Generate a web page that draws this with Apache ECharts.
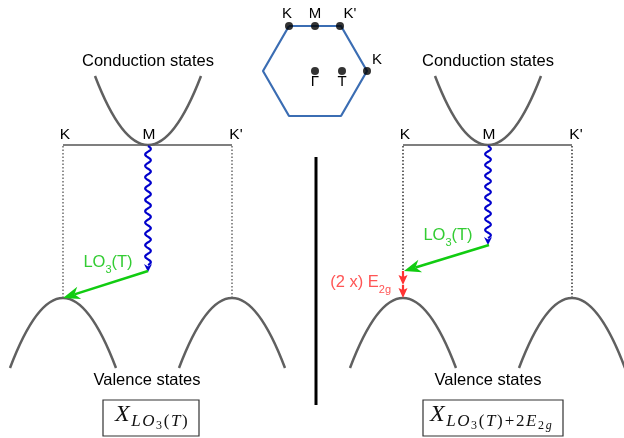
<!DOCTYPE html>
<html><head><meta charset="utf-8">
<script src="https://cdn.jsdelivr.net/npm/echarts@6/dist/echarts.min.js"></script>
<style>html,body{margin:0;padding:0;background:#fff}#c{width:624px;height:438px}</style>
</head><body><div id="c"></div>
<script>
// Diagram values, in the diagram's own units (0..624 across, 0..438 down)
const bandCurves = [ // [xLeftEnd, yEnds, xVertex, yVertex, xRightEnd]
  [95, 76, 148, 145, 201],
  [435, 76, 488, 145, 541],
  [10, 368, 63, 298, 116],
  [179, 368, 232, 298, 285],
  [350, 368, 403, 298, 456],
  [519, 368, 572, 298, 625]
];
const pathLines = [[63,145,232,145],[403,145,572,145]];
const dottedGray = [[63,146,63,298],[232,146,232,298]];
const dottedBlack = [[403,146,403,271],[572,146,572,298]];
const divider = [[316,157,316,405]];
const phononWaves = [[148,146,265,10.5],[488,146,238,8.5]]; // x, yStart, yEnd, wiggles
const lo3Arrows = [[148,271,63,298],[489,245,404,271]];
const e2gArrows = [[403,271,403,285],[403,285,403,298]];
const hexagon = [[289,26],[341,26],[367,71],[341,116],[289,116],[263,71],[289,26]];
const bzPoints = [[289,26],[315,26],[340,26],[367,71],[315,71],[342,71]];
const bzLabels = [['K',287,14],['M',315,14],["K'",350,14],['K',377,60],['Γ',315,82],['T',342,82]];
const kLabels = [['K',65,135],['M',149,135],["K'",236,135],['K',405,135],['M',489,135],["K'",576,135]];
const bandLabels = [['Conduction states',148,61],['Conduction states',488,61],['Valence states',147,380],['Valence states',488,380]];
const lo3Labels = [['{a|LO}{s|3}{a|(T)}',108,262],['{a|LO}{s|3}{a|(T)}',448,235]];
const e2gLabels = [['{a|(2 x) E}{s|2g}',391,282]];
const boxes = [[103,400,199,436],[423,400,563,436]];
// formula tokens: [style, glyph]
const formula1 = [['x','X'],['s','L'],['s','O'],['n','3'],['u','('],['s','T'],['u',')']];
const formula2 = [['x','X'],['s','L'],['s','O'],['n','3'],['u','('],['s','T'],['u',')'],['p','+'],['u','2'],['s','E'],['n','2'],['g','g']];
const boxFormulaAnchors = [[115,413],[430,413]];

const SANS = 'Liberation Sans';
const SERIF = 'Liberation Serif';
const richString = toks => toks.map(t => '{' + t[0] + '|' + t[1] + '}').join('');
const boxFormulas = [[richString(formula1)].concat(boxFormulaAnchors[0]), [richString(formula2)].concat(boxFormulaAnchors[1])];

function segItem(color, width, dash) {
  return function (params, api) {
    const a = api.coord([api.value(0), api.value(1)]);
    const b = api.coord([api.value(2), api.value(3)]);
    return {type: 'line', shape: {x1: a[0], y1: a[1], x2: b[0], y2: b[1]},
      style: {stroke: color, lineWidth: width, lineDash: dash || null}};
  };
}
function curveItem(params, api) {
  const l = api.coord([api.value(0), api.value(1)]);
  const v = api.coord([api.value(2), api.value(3)]);
  const r = api.coord([api.value(4), api.value(1)]);
  return {type: 'bezierCurve',
    shape: {x1: l[0], y1: l[1], x2: r[0], y2: r[1], cpx1: v[0], cpy1: 2 * v[1] - l[1]},
    style: {stroke: '#606060', lineWidth: 2.5, fill: null}};
}
function waveItem(params, api) {
  const x = api.value(0), y0 = api.value(1), y1 = api.value(2), n = api.value(3);
  const a0 = api.coord([x, y0]), a1 = api.coord([x, y1]);
  const pts = [];
  const steps = 300;
  for (let i = 0; i <= steps; i++) {
    const t = i / steps;
    pts.push([a0[0] + 2.8 * Math.sin(2 * Math.PI * n * t), a0[1] + (a1[1] - a0[1]) * t]);
  }
  const bx = a0[0], by = a1[1];
  return {type: 'group', children: [
    {type: 'polyline', shape: {points: pts}, style: {stroke: '#0000cc', lineWidth: 2.2, fill: null}},
    {type: 'polygon', shape: {points: [[bx, by + 7], [bx - 4, by - 1], [bx, by + 1.5], [bx + 4, by - 1]]},
      style: {fill: '#0000cc'}}
  ]};
}
function arrowItem(color, lineW, headLen, headHalf, notch) {
  return function (params, api) {
    const p1 = api.coord([api.value(0), api.value(1)]);
    const p2 = api.coord([api.value(2), api.value(3)]);
    const dx = p2[0] - p1[0], dy = p2[1] - p1[1], L = Math.hypot(dx, dy);
    const ux = dx / L, uy = dy / L, nx = -uy, ny = ux;
    const bx = p2[0] - ux * headLen, by = p2[1] - uy * headLen;
    const mx = p2[0] - ux * (headLen - notch), my = p2[1] - uy * (headLen - notch);
    return {type: 'group', children: [
      {type: 'line', shape: {x1: p1[0], y1: p1[1], x2: mx, y2: my}, style: {stroke: color, lineWidth: lineW}},
      {type: 'polygon', shape: {points: [[p2[0], p2[1]], [bx + nx * headHalf, by + ny * headHalf], [mx, my], [bx - nx * headHalf, by - ny * headHalf]]},
        style: {fill: color}}
    ]};
  };
}
function textItem(list, base, rich) {
  return function (params, api) {
    const item = list[params.dataIndex];
    const p = api.coord([api.value(0), api.value(1)]);
    return {type: 'text', x: p[0], y: p[1] + (base.dy || 0),
      style: Object.assign({text: item[0], rich: rich || null}, base.style)};
  };
}
function custom(data, renderItem, z) {
  return {type: 'custom', coordinateSystem: 'cartesian2d', data: data, renderItem: renderItem,
    silent: true, z: z || 2, clip: false};
}
const xy = list => list.map(d => [d[1], d[2]]);

const greenRich = {
  a: {fontSize: 16.5, fontFamily: SANS, fill: '#33cc33', verticalAlign: 'top'},
  s: {fontSize: 11, fontFamily: SANS, fill: '#33cc33', verticalAlign: 'top', padding: [11, 0, 0, 0]}
};
const redRich = {
  a: {fontSize: 16.5, fontFamily: SANS, fill: '#ff5555', verticalAlign: 'top'},
  s: {fontSize: 11, fontFamily: SANS, fill: '#ff5555', verticalAlign: 'top', padding: [11, 0, 0, 0]}
};
const mathRich = {
  x: {fontSize: 24, fontFamily: SERIF, fontStyle: 'italic', fill: '#111', verticalAlign: 'top', padding: [0, 1.5, 0, 0]},
  s: {fontSize: 17, fontFamily: SERIF, fontStyle: 'italic', fill: '#111', verticalAlign: 'top', padding: [10.5, 1.6, 0, 0]},
  u: {fontSize: 17, fontFamily: SERIF, fill: '#111', verticalAlign: 'top', padding: [10.5, 1.6, 0, 0]},
  p: {fontSize: 17, fontFamily: SERIF, fill: '#111', verticalAlign: 'top', padding: [10.5, 1.6, 0, 0.5]},
  n: {fontSize: 12, fontFamily: SERIF, fill: '#111', verticalAlign: 'top', padding: [17, 1.6, 0, 0]},
  g: {fontSize: 12, fontFamily: SERIF, fontStyle: 'italic', fill: '#111', verticalAlign: 'top', padding: [17, 0, 0, 0]}
};

const chart = echarts.init(document.getElementById('c'), null, {renderer: 'canvas'});
chart.setOption({
  animation: false,
  backgroundColor: '#fff',
  grid: {left: 0, right: 0, top: 0, bottom: 0},
  xAxis: {type: 'value', min: 0, max: 624, show: false},
  yAxis: {type: 'value', min: 0, max: 438, inverse: true, show: false},
  series: [
    custom(pathLines, segItem('#000', 1.2)),
    custom(dottedGray, segItem('#555', 1.3, [1.5, 2])),
    custom(dottedBlack, segItem('#000', 1.2, [1.5, 2])),
    custom(divider, segItem('#000', 3)),
    custom(bandCurves, curveItem, 3),
    custom(phononWaves, waveItem, 4),
    custom(lo3Arrows, arrowItem('#11cc11', 2.6, 17, 6.5, 5), 5),
    custom(e2gArrows, arrowItem('#ff3333', 2.2, 10, 4.5, 2), 5),
    {type: 'line', data: hexagon, symbol: 'none', silent: true,
      lineStyle: {color: '#3b6db3', width: 2.2}, z: 3},
    {type: 'scatter', data: bzPoints, symbolSize: 8, itemStyle: {color: '#000'}, silent: true, z: 4},
    custom(xy(bzLabels), textItem(bzLabels, {style: {fontSize: 15, fontFamily: SANS, fill: '#000', align: 'center', verticalAlign: 'middle'}}), 6),
    custom(xy(kLabels), textItem(kLabels, {style: {fontSize: 15.5, fontFamily: SANS, fill: '#000', align: 'center', verticalAlign: 'middle'}}), 6),
    custom(xy(bandLabels), textItem(bandLabels, {style: {fontSize: 16.5, fontFamily: SANS, fill: '#000', align: 'center', verticalAlign: 'middle'}}), 6),
    custom(xy(lo3Labels), textItem(lo3Labels, {dy: -8.5, style: {align: 'center', verticalAlign: 'top'}}, greenRich), 6),
    custom(xy(e2gLabels), textItem(e2gLabels, {dy: -8.5, style: {align: 'right', verticalAlign: 'top'}}, redRich), 6),
    custom(boxes, function (params, api) {
      const a = api.coord([api.value(0), api.value(1)]);
      const b = api.coord([api.value(2), api.value(3)]);
      return {type: 'rect', shape: {x: a[0], y: a[1], width: b[0] - a[0], height: b[1] - a[1]},
        style: {stroke: '#333', lineWidth: 1.2, fill: '#fff'}};
    }, 5),
    custom(xy(boxFormulas), textItem(boxFormulas, {dy: -10.5, style: {align: 'left', verticalAlign: 'top'}}, mathRich), 6)
  ]
});
</script></body></html>
